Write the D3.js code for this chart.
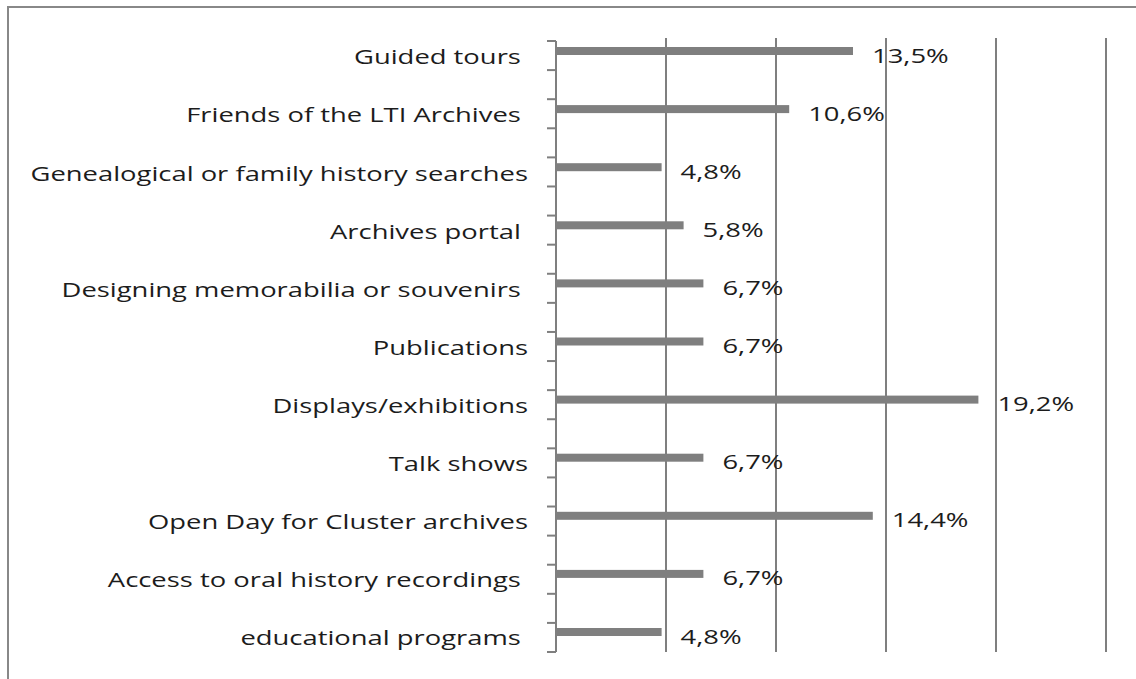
<!DOCTYPE html>
<html>
<head>
<meta charset="utf-8">
<script src="https://cdn.jsdelivr.net/npm/d3@7"></script>
<style>
  html, body { margin: 0; padding: 0; background: #fff; }
  svg text { white-space: pre; }
</style>
</head>
<body>
<svg id="chart" width="1136" height="679"></svg>
<script>
const categories = [
  "Guided tours ",
  "Friends of the LTI Archives ",
  "Genealogical or family history searches",
  "Archives portal ",
  "Designing memorabilia or souvenirs ",
  "Publications",
  "Displays/exhibitions",
  "Talk shows",
  "Open Day for Cluster archives",
  "Access to oral history recordings ",
  "educational programs "
];
const values = [13.5, 10.6, 4.8, 5.8, 6.7, 6.7, 19.2, 6.7, 14.4, 6.7, 4.8];
const valueLabels = ["13,5%", "10,6%", "4,8%", "5,8%", "6,7%", "6,7%", "19,2%", "6,7%", "14,4%", "6,7%", "4,8%"];
const xGridTicks = [5, 10, 15, 20, 25];

const svg = d3.select("#chart");
const W = 1136, H = 679;
const FONT = "'Open Sans', sans-serif";
const GRAY = "#7f7f7f";
const TEXT = "#1c1c1c";
const STRETCH = 1.37;

svg.append("rect").attr("width", W).attr("height", H).attr("fill", "#fff");
// outer frame (left + top visible)
svg.append("rect").attr("x", 8).attr("y", 7).attr("width", W + 20).attr("height", H + 20)
  .attr("fill", "none").attr("stroke", "#888").attr("stroke-width", 2);

const x = d3.scaleLinear().domain([0, 25]).range([556, 1106]);
const plotTop = 41, step = 58.1;
const y = d3.scaleBand().domain(categories).range([plotTop, plotTop + step * categories.length]).paddingInner(0).paddingOuter(0);
const axisBottom = 652;

// gridlines
svg.append("g").selectAll("line").data(xGridTicks).join("line")
  .attr("x1", d => x(d)).attr("x2", d => x(d))
  .attr("y1", 38).attr("y2", axisBottom)
  .attr("stroke", GRAY).attr("stroke-width", 2);

// category axis line + ticks (ticks at each half band)
const halfTicks = d3.range(0, 22).map(k => plotTop + k * (axisBottom - plotTop) / 21);
svg.append("line").attr("x1", 556).attr("x2", 556).attr("y1", plotTop).attr("y2", axisBottom)
  .attr("stroke", GRAY).attr("stroke-width", 2);
svg.append("g").selectAll("line").data(halfTicks).join("line")
  .attr("x1", 547).attr("x2", 556).attr("y1", d => d).attr("y2", d => d)
  .attr("stroke", GRAY).attr("stroke-width", 2);

// bars
svg.append("g").selectAll("rect").data(values).join("rect")
  .attr("x", x(0))
  .attr("y", (d, i) => y(categories[i]) + 6)
  .attr("width", d => x(d) - x(0))
  .attr("height", 8)
  .attr("fill", GRAY);

// category labels
svg.append("g").selectAll("text").data(categories).join("text")
  .attr("transform", d => `translate(528,${y(d) + 23.3}) scale(${STRETCH},1)`)
  .attr("text-anchor", "end")
  .attr("font-family", FONT).attr("font-size", 20).attr("fill", TEXT)
  .text(d => d);

// value labels
svg.append("g").selectAll("text").data(values).join("text")
  .attr("transform", (d, i) => `translate(${x(d) + 19},${y(categories[i]) + 21.5}) scale(${STRETCH},1)`)
  .attr("font-family", FONT).attr("font-size", 20).attr("fill", TEXT)
  .text((d, i) => valueLabels[i]);
</script>
</body>
</html>
